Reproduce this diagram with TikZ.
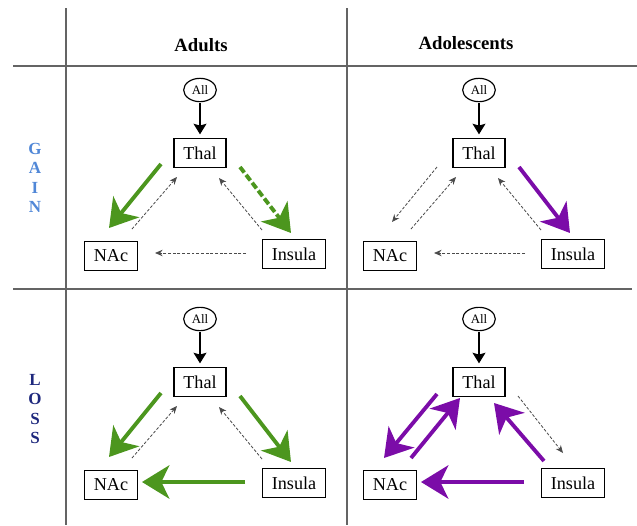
\documentclass[tikz,border=0pt]{standalone}
\usepackage{fontspec}
\setmainfont{Liberation Serif}
\usetikzlibrary{arrows.meta, shapes.geometric, calc}

\definecolor{gaingreen}{RGB}{76,150,30}
\definecolor{losspurple}{RGB}{123,12,168}
\definecolor{weakgray}{RGB}{75,75,75}
\definecolor{gridgray}{RGB}{100,100,100}
\definecolor{gainblue}{RGB}{80,135,215}
\definecolor{lossnavy}{RGB}{30,40,125}

\tikzset{
  region/.style={draw, line width=1.1pt, inner xsep=8pt, minimum height=0.87cm,
    font=\fontsize{15.5}{18}\selectfont},
  oval/.style={draw, ellipse, line width=1pt, inner sep=0.5pt, minimum width=0.98cm,
    minimum height=0.7cm, font=\fontsize{11}{13}\selectfont},
  feed/.style={-{Stealth[length=9pt, width=11pt, inset=1.5pt]}, line width=1.3pt,
    shorten <=1pt, shorten >=3pt},
  weak/.style={-{Stealth[length=6.5pt, width=5.5pt]}, weakgray, line width=0.7pt,
    dash pattern=on 2.5pt off 1.5pt},
  strong/.style={-{Stealth[length=0.82cm, width=1cm, inset=0.24cm]}, line width=3.3pt},
  header/.style={font=\bfseries\fontsize{16}{19}\selectfont},
  rowlabel/.style={font=\bfseries\fontsize{14.5}{16.5}\selectfont, align=center}
}

\begin{document}
\begin{tikzpicture}[x=0.03cm, y=-0.03cm]
  \useasboundingbox (0,0) rectangle (637,525);
  % Grid
  \draw[gridgray, line width=1.2pt] (66,8) -- (66,525);
  \draw[gridgray, line width=1.2pt] (347,8) -- (347,525);
  \draw[gridgray, line width=1.2pt] (13,66) -- (637,66);
  \draw[gridgray, line width=1.2pt] (13,289) -- (632,289);
  % Headers
  \node[header] (adults) at (201,45) {Adults};
  \node[header] (adolescents) at (466,43) {Adolescents};
  \node[rowlabel, text=gainblue] (gain) at (35,178) {G\\A\\I\\N};
  \node[rowlabel, text=lossnavy] (loss) at (35,409) {L\\O\\S\\S};
  % Nodes of each panel
  \foreach \p/\x/\y in {1/200/153, 2/479/153, 3/200/382, 4/479/382} {
    \node[region] (thal\p) at (\x,\y) {Thal};
    \node[oval] (all\p) at (\x,\y-63) {All};
    \node[region] (nac\p) at (\x-89,\y+103) {NAc};
    \node[region] (ins\p) at (\x+94,\y+101) {Insula};
    \draw[feed] (all\p) -- (thal\p);
  }
  % Adults, gain
  \draw[strong, gaingreen] ($(thal1)+(-39,11)$) -- ($(nac1)+(-2,-28)$);
  \draw[weak] ($(nac1)+(21,-27)$) -- ($(thal1)+(-23,24)$);
  \draw[strong, gaingreen, dash pattern=on 6pt off 2.5pt] ($(thal1)+(40,14)$) -- ($(ins1)+(-3,-21)$);
  \draw[weak] ($(ins1)+(-32,-24)$) -- ($(thal1)+(19,25)$);
  \draw[weak] ($(ins1)+(-48,-1)$) -- ($(nac1)+(44,-3)$);
  % Adolescents, gain
  \draw[weak] ($(thal2)+(-42,14)$) -- ($(nac2)+(2,-34)$);
  \draw[weak] ($(nac2)+(21,-27)$) -- ($(thal2)+(-23,24)$);
  \draw[strong, losspurple] ($(thal2)+(40,14)$) -- ($(ins2)+(-3,-21)$);
  \draw[weak] ($(ins2)+(-32,-24)$) -- ($(thal2)+(19,25)$);
  \draw[weak] ($(ins2)+(-48,-1)$) -- ($(nac2)+(44,-3)$);
  % Adults, loss
  \draw[strong, gaingreen] ($(thal3)+(-39,11)$) -- ($(nac3)+(-2,-28)$);
  \draw[weak] ($(nac3)+(21,-27)$) -- ($(thal3)+(-23,24)$);
  \draw[strong, gaingreen] ($(thal3)+(40,14)$) -- ($(ins3)+(-3,-21)$);
  \draw[weak] ($(ins3)+(-32,-24)$) -- ($(thal3)+(19,25)$);
  \draw[strong, gaingreen] ($(ins3)+(-49,-1)$) -- ($(nac3)+(31,-3)$);
  % Adolescents, loss
  \draw[strong, losspurple] ($(thal4)+(-42,12)$) -- ($(nac4)+(-6,-27)$);
  \draw[strong, losspurple] ($(nac4)+(21,-27)$) -- ($(thal4)+(-19,16)$);
  \draw[weak] ($(thal4)+(39,14)$) -- ($(ins4)+(-10,-30)$);
  \draw[strong, losspurple] ($(ins4)+(-29,-22)$) -- ($(thal4)+(15,21)$);
  \draw[strong, losspurple] ($(ins4)+(-49,-1)$) -- ($(nac4)+(31,-3)$);
\end{tikzpicture}
\end{document}
